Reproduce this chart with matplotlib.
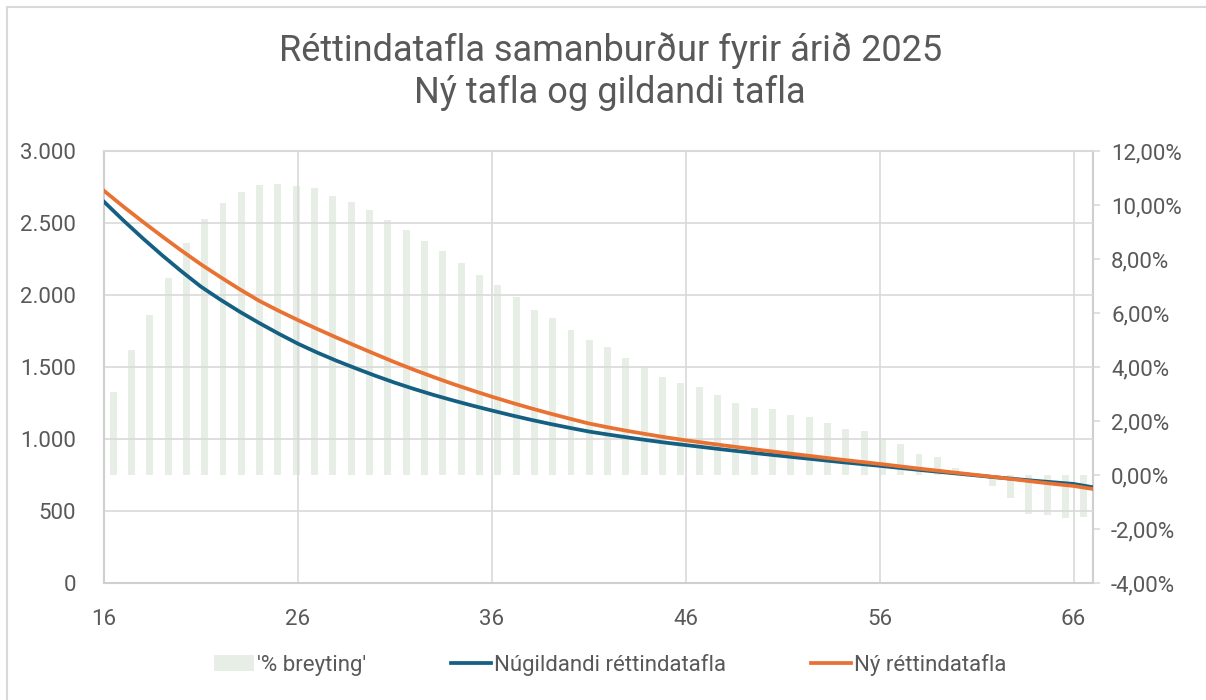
import matplotlib.pyplot as plt
import matplotlib.ticker as mticker
from matplotlib.patches import Rectangle
import numpy as np

plt.rcParams['font.family'] = ['Roboto', 'DejaVu Sans']

# line data (ages 16-67)
ages = list(range(16, 68))
nugildandi = [2648, 2518, 2394, 2276, 2164, 2058, 1968, 1884, 1806, 1732,
              1662, 1600, 1543, 1490, 1439, 1391, 1347, 1306, 1268, 1232,
              1198, 1165, 1134, 1105, 1078, 1052, 1031, 1011, 992, 974,
              958, 942, 926, 911, 896, 882, 868, 854, 840, 827,
              814, 800, 786, 773, 760, 747, 734, 722, 710, 699,
              688, 665]
ny = [2724, 2614, 2509, 2407, 2308, 2213, 2125, 2040, 1960, 1891,
      1826, 1764, 1704, 1646, 1589, 1533, 1480, 1430, 1382, 1337,
      1294, 1253, 1214, 1177, 1142, 1108, 1081, 1056, 1033, 1011,
      991, 973, 955, 938, 921, 905, 889, 873, 857, 842,
      827, 811, 795, 780, 765, 750, 735, 719, 703, 688,
      674, 653]

# bar data (% change, 54 categories)
bar_ages = list(range(16, 70))
breyting = [3.09, 4.63, 5.93, 7.28, 8.60, 9.48, 10.09, 10.47, 10.75, 10.79,
            10.72, 10.63, 10.35, 10.12, 9.81, 9.44, 9.07, 8.67, 8.30, 7.86,
            7.41, 7.03, 6.60, 6.11, 5.81, 5.37, 5.00, 4.73, 4.32, 3.99,
            3.64, 3.40, 3.25, 2.96, 2.68, 2.49, 2.43, 2.22, 2.15, 1.93,
            1.72, 1.62, 1.38, 1.15, 0.77, 0.65, 0.25, 0.05, -0.41, -0.84,
            -1.44, -1.48, -1.58, -1.54]

txt = "#595959"
grid_c = "#D9D9D9"
rect = [0.0862, 0.1671, 0.8201, 0.6172]

fig = plt.figure(figsize=(12.06, 7.0), dpi=100)

# outer chart border (only top/left visible)
fig.patches.append(Rectangle((7 / 1206, -0.1), 1.2, (700 - 7) / 700 + 0.1,
                             transform=fig.transFigure, fill=False,
                             edgecolor=grid_c, linewidth=1.5))

# bars on their own category axis, percent scale on the right
axb = fig.add_axes(rect)
bar_pos = np.arange(len(bar_ages))
axb.bar(bar_pos, [b / 100 for b in breyting], width=0.38, color="#E6EEE6",
        label="'% breyting'", zorder=1)
axb.set_xlim(-0.5, len(bar_ages) - 0.5)
axb.set_ylim(-0.04, 0.12)
axb.set_yticks(np.arange(-0.04, 0.1201, 0.02))
axb.yaxis.tick_right()
axb.yaxis.set_major_formatter(mticker.FuncFormatter(
    lambda v, p: f"{v * 100:.2f}%".replace(".", ",")))
axb.tick_params(axis="y", colors=grid_c, labelcolor=txt, labelsize=16,
                length=5, width=1.2, pad=8)
axb.set_xticks([])
for s in axb.spines.values():
    s.set_visible(False)
axb.spines["right"].set_visible(True)
axb.spines["right"].set_color("#CFCFCF")
axb.spines["right"].set_linewidth(1.5)

# lines on top
axl = fig.add_axes(rect)
axl.patch.set_alpha(0)
axl.plot(ages, nugildandi, color="#156082", lw=2.7, label="Núgildandi réttindatafla", zorder=3)
axl.plot(ages, ny, color="#E97132", lw=2.7, label="Ný réttindatafla", zorder=3)
axl.set_xlim(16, 67)
axl.set_ylim(0, 3000)
axl.set_xticks(range(16, 67, 10))
axl.set_yticks(range(0, 3001, 500))
axl.yaxis.set_major_formatter(mticker.FuncFormatter(
    lambda v, p: f"{v:,.0f}".replace(",", ".")))
axl.tick_params(axis="both", length=0, colors=txt, labelsize=16)
axl.tick_params(axis="y", pad=20)
axl.tick_params(axis="x", pad=19)
axl.grid(True, color=grid_c, linewidth=1.2)
axl.set_axisbelow(True)
for name, s in axl.spines.items():
    s.set_color("#CFCFCF")
    s.set_linewidth(1.5)
axl.spines["right"].set_visible(False)
axl.spines["top"].set_color(grid_c)

fig.text(0.506, 0.898, "Réttindatafla samanburður fyrir árið 2025\nNý tafla og gildandi tafla",
         ha="center", va="center", fontsize=26, color=txt, linespacing=1.22)

h1, l1 = axb.get_legend_handles_labels()
h2, l2 = axl.get_legend_handles_labels()
fig.legend(h1 + h2, l1 + l2, loc="center", bbox_to_anchor=(0.506, 0.05), ncol=3,
           frameon=False, fontsize=16, labelcolor=txt, handlelength=1.8,
           handleheight=0.7, handletextpad=0.15, columnspacing=3.8)

fig.savefig("out.png", dpi=100)
